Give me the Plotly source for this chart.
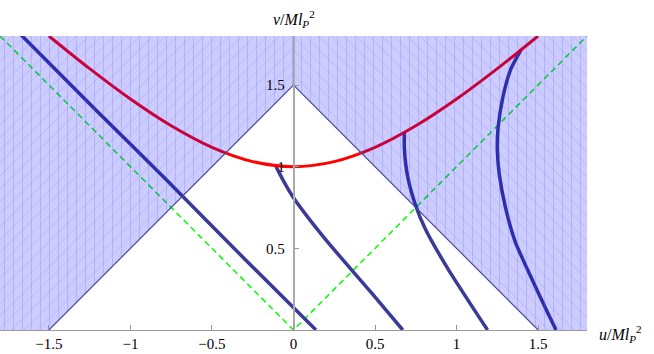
import plotly.graph_objects as go

# red curve (hyperbola through v=1 at u=0)
red_u = [-1.5, -1.25, -1.0, -0.75, -0.5, -0.25, 0.0, 0.25, 0.5, 0.75, 1.0, 1.25, 1.5]
red_v = [1.80, 1.60, 1.414, 1.25, 1.118, 1.031, 1.0, 1.031, 1.118, 1.25, 1.414, 1.60, 1.80]

# blue trajectories
blue1_u = [-1.672, -1.2, -0.78, -0.3, 0.138]
blue1_v = [1.808, 1.335, 0.92, 0.435, 0.0]

blue2_u = [-0.107, -0.06, 0.0, 0.2, 0.476, 0.67]
blue2_v = [1.0, 0.91, 0.81, 0.55, 0.23, 0.0]

blue3_u = [0.68, 0.68, 0.70, 0.75, 0.81, 0.95, 1.19]
blue3_v = [1.21, 1.11, 0.94, 0.76, 0.615, 0.37, 0.0]

blue4_u = [1.396, 1.334, 1.285, 1.254, 1.250, 1.262, 1.300, 1.360, 1.450, 1.545, 1.61]
blue4_v = [1.717, 1.60, 1.43, 1.23, 1.10, 0.953, 0.75, 0.54, 0.338, 0.135, 0.0]

# light-cone (green dashed)
cone_u = [-1.8, 0.0, 1.8]
cone_v = [1.8, 0.0, 1.8]

# shaded regions |u| + v > 1.5
left_u = [-1.8, -1.5, 0.0, 0.0, -1.8]
left_v = [0.0, 0.0, 1.5, 1.8, 1.8]
right_u = [1.8, 1.5, 0.0, 0.0, 1.8]
right_v = [0.0, 0.0, 1.5, 1.8, 1.8]

edge_u = [-1.5, 0.0, 1.5, None, 0.0, 0.0]
edge_v = [0.0, 1.5, 0.0, None, 1.5, 1.8]

x_ticks = [-1.5, -1.0, -0.5, 0.0, 0.5, 1.0, 1.5]
x_labels = ['\u22121.5', '\u22121', '\u22120.5', '0', '0.5', '1', '1.5']
y_ticks = [0.5, 1.0, 1.5]
y_labels = ['0.5', '1', '1.5']

BLUE = '#3a3a98'
fig = go.Figure()

fig.add_trace(go.Scatter(x=cone_u, y=cone_v, mode='lines',
                         line=dict(color='#00ff00', width=1.5, dash='6px,4px')))
for bu, bv in [(blue1_u, blue1_v), (blue2_u, blue2_v), (blue3_u, blue3_v), (blue4_u, blue4_v)]:
    fig.add_trace(go.Scatter(x=bu, y=bv, mode='lines',
                             line=dict(color=BLUE, width=3.5, shape='spline', smoothing=0.6)))
fig.add_trace(go.Scatter(x=red_u, y=red_v, mode='lines',
                         line=dict(color='#ff0000', width=3, shape='spline')))

# translucent shading on top of the curves, plus mesh hatching
for ru, rv, diag in [(left_u, left_v, '/'), (right_u, right_v, '\\')]:
    fig.add_trace(go.Scatter(x=ru, y=rv, mode='lines', fill='toself',
                             fillcolor='rgba(0,0,255,0.2)', line=dict(width=0)))
    fig.add_trace(go.Scatter(x=ru, y=rv, mode='lines', fill='toself',
                             fillcolor='rgba(0,0,0,0)', line=dict(width=0),
                             fillpattern=dict(shape='|', size=9, solidity=0.1,
                                              fgcolor='rgba(70,70,255,0.45)',
                                              bgcolor='rgba(0,0,0,0)')))
    fig.add_trace(go.Scatter(x=ru, y=rv, mode='lines', fill='toself',
                             fillcolor='rgba(0,0,0,0)', line=dict(width=0),
                             fillpattern=dict(shape=diag, size=9, solidity=0.1,
                                              fgcolor='rgba(70,70,255,0.35)',
                                              bgcolor='rgba(0,0,0,0)')))

fig.add_trace(go.Scatter(x=edge_u, y=edge_v, mode='lines',
                         line=dict(color='#4a4a9a', width=1.2)))

font = dict(family='Liberation Serif, Times New Roman, serif', size=15, color='black')

fig.update_layout(
    width=654, height=354,
    margin=dict(l=0, r=67, t=36, b=24, autoexpand=False),
    paper_bgcolor='white', plot_bgcolor='white',
    showlegend=False,
    font=font,
    xaxis=dict(range=[-1.8, 1.8], tickvals=x_ticks, ticktext=x_labels,
               showgrid=False, zeroline=False, showline=True, automargin=False,
               linecolor='#999999', linewidth=1.2,
               ticks='inside', ticklen=5, tickcolor='#999999', tickwidth=1),
    yaxis=dict(range=[0, 1.8], tickvals=y_ticks, ticktext=y_labels,
               showgrid=False, zeroline=False, showline=True, automargin=False,
               anchor='free', position=0.5,
               linecolor='#aaaaaa', linewidth=1.5,
               ticks='inside', ticklen=5, tickcolor='#999999', tickwidth=1,
               ticklabelstandoff=5),
)

label_font = dict(family='Liberation Serif, Times New Roman, serif', size=16, color='black')
fig.add_annotation(x=0.5, y=1.0, xref='paper', yref='paper', yshift=4,
                   text='<i>v</i>/<i>Ml</i><sub><i>P</i></sub><sup>2</sup>',
                   showarrow=False, xanchor='center', yanchor='bottom', font=label_font)
fig.add_annotation(x=1.0, y=0.0, xref='paper', yref='paper', xshift=10, yshift=-4,
                   text='<i>u</i>/<i>Ml</i><sub><i>P</i></sub><sup>2</sup>',
                   showarrow=False, xanchor='left', yanchor='middle', font=label_font)

fig.write_html('out.html', config={'displayModeBar': False},
               post_script="document.body.style.margin='0';")
